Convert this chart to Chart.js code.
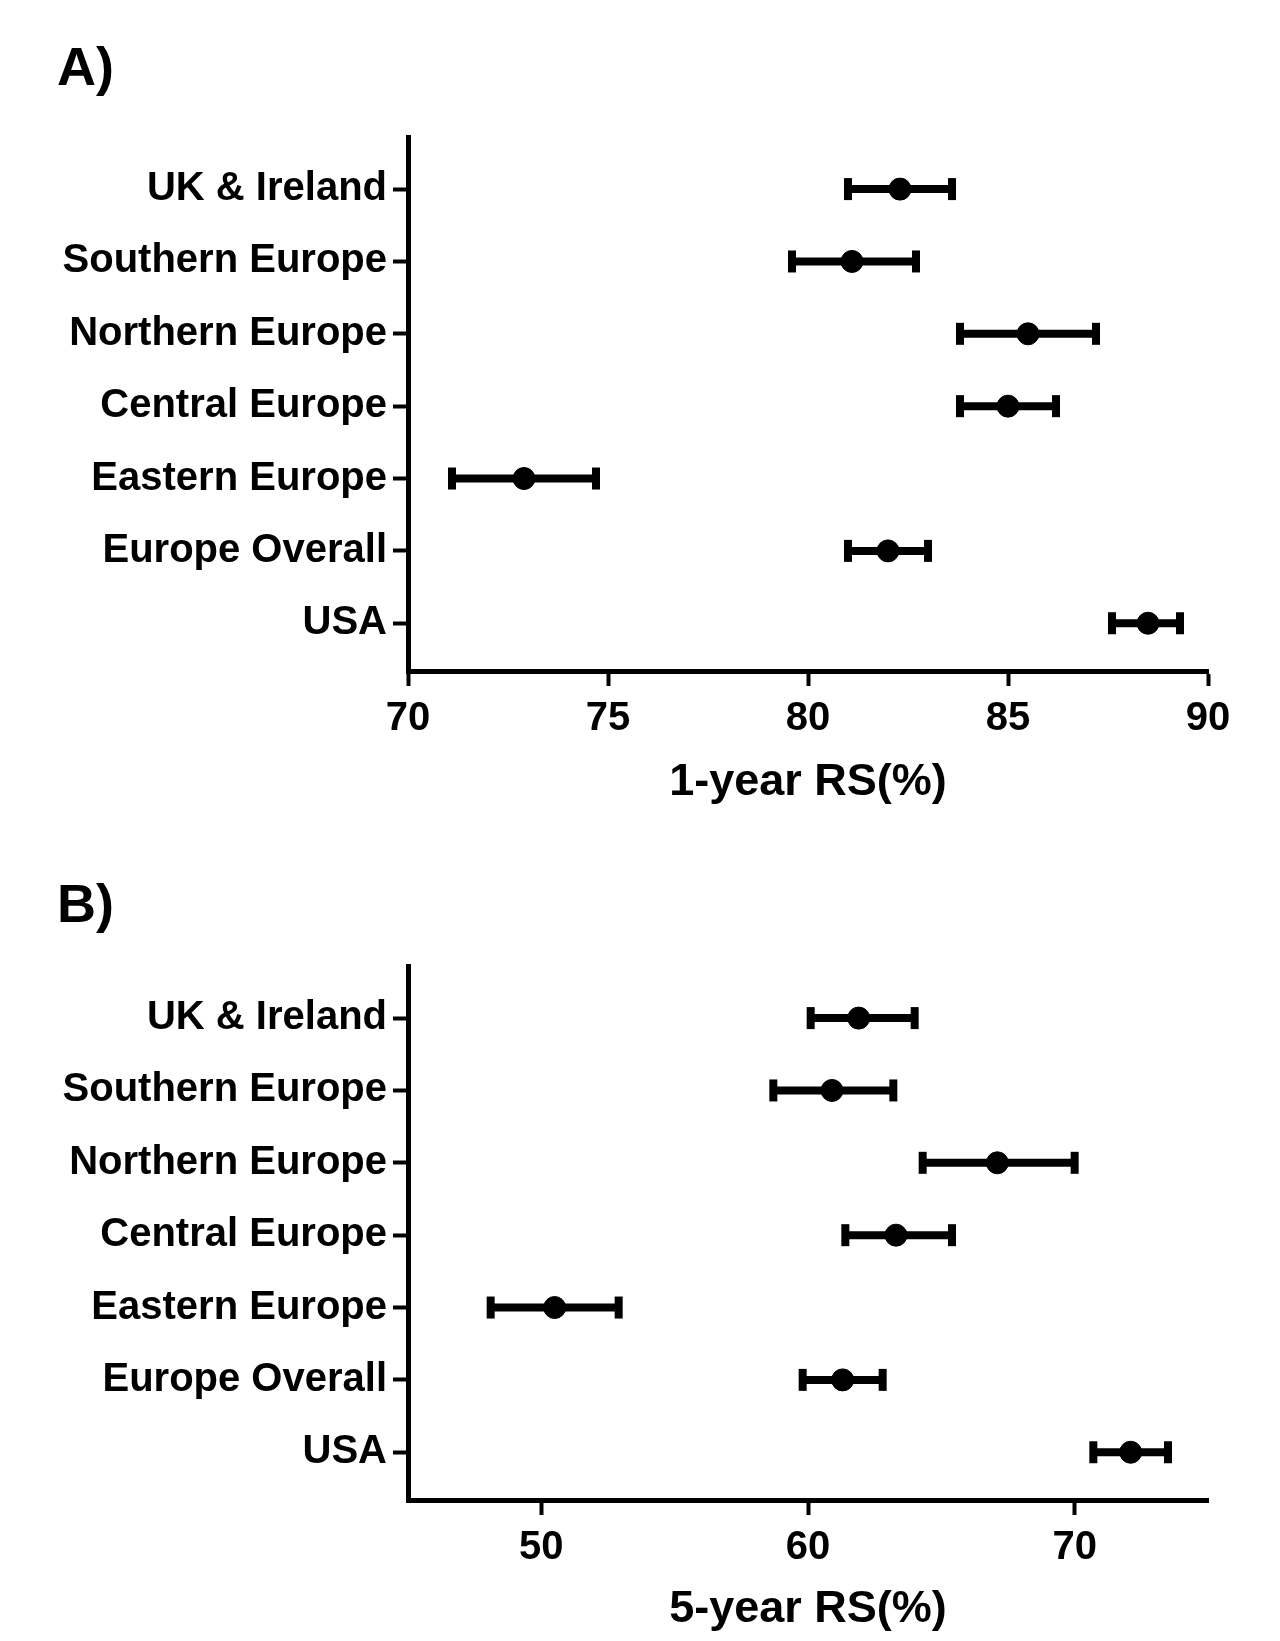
<!DOCTYPE html>
<html>
<head>
<meta charset="utf-8">
<script src="https://cdn.jsdelivr.net/npm/chart.js@4.4.1/dist/chart.umd.min.js"></script>
<style>
    body { margin: 0; background: #fff; }
    #wrap { position: relative; width: 1280px; height: 1641px; }
    canvas { position: absolute; left: 0; }
</style>
</head>
<body>
<div id="wrap">
    <canvas id="chart-a" width="1280" height="820" style="top:0"></canvas>
    <canvas id="chart-b" width="1280" height="821" style="top:820px"></canvas>
</div>
<script>
// --- DATA ---

const regions = ['UK & Ireland', 'Southern Europe', 'Northern Europe', 'Central Europe', 'Eastern Europe', 'Europe Overall', 'USA'];

// A) 1-year relative survival
const rs1Mean = [82.3, 81.1, 85.5, 85.0, 72.9, 82.0, 88.5];
const rs1Low  = [81.0, 79.6, 83.8, 83.8, 71.1, 81.0, 87.6];
const rs1High = [83.6, 82.7, 87.2, 86.2, 74.7, 83.0, 89.3];
const rs1Ticks = [70, 75, 80, 85, 90];

// B) 5-year relative survival
const rs5Mean = [61.9, 60.9, 67.1, 63.3, 50.5, 61.3, 72.1];
const rs5Low  = [60.1, 58.7, 64.3, 61.4, 48.1, 59.8, 70.7];
const rs5High = [64.0, 63.2, 70.0, 65.4, 52.9, 62.8, 73.5];
const rs5Ticks = [50, 60, 70];

const FONT = '"Liberation Sans", Arial, sans-serif';

// --- CHART BUILDER ---

function forestPlot(canvasId, cfg) {
    // dataset 0 is drawn last, so the dots sit on top of the whiskers
    const datasets = [{
        type: 'scatter',
        data: cfg.mean.map((v, i) => ({ x: v, y: i })),
        pointRadius: 11,
        pointHoverRadius: 11,
        backgroundColor: '#000',
        borderColor: '#000'
    }];

    cfg.low.forEach((lo, i) => {
        datasets.push({
            type: 'line',
            data: [{ x: lo, y: i }, { x: cfg.high[i], y: i }],
            borderColor: '#000',
            borderWidth: 8,
            fill: false,
            pointStyle: 'line',
            pointRotation: 90,
            pointRadius: 11,
            pointHoverRadius: 11,
            pointBorderWidth: 8,
            pointBorderColor: '#000'
        });
    });

    const axisLine = { display: true, width: 5, color: '#000' };
    const tickMarks = { drawOnChartArea: false, drawTicks: true, tickLength: 15, tickWidth: 4, color: '#000' };

    return new Chart(document.getElementById(canvasId), {
        type: 'scatter',
        data: { datasets },
        options: {
            responsive: false,
            animation: false,
            events: [],
            layout: { padding: { top: 0, left: 57, right: 72, bottom: 0 } },
            plugins: {
                legend: { display: false },
                tooltip: { enabled: false },
                title: {
                    display: true,
                    text: cfg.panel,
                    align: 'start',
                    color: '#000',
                    font: { family: FONT, weight: 'bold', size: 54, lineHeight: 1 },
                    padding: cfg.panelPad
                }
            },
            scales: {
                x: {
                    type: 'linear',
                    min: cfg.min,
                    max: cfg.max,
                    afterBuildTicks: s => { s.ticks = cfg.ticks.map(v => ({ value: v })); },
                    afterFit: s => { s.height = cfg.xHeight; },
                    grid: tickMarks,
                    border: axisLine,
                    ticks: { color: '#000', padding: 9, maxRotation: 0, autoSkip: false,
                             font: { family: FONT, weight: 'bold', size: 40, lineHeight: 1.2 } },
                    title: {
                        display: true,
                        text: cfg.xTitle,
                        color: '#000',
                        font: { family: FONT, weight: 'bold', size: 45, lineHeight: 1 },
                        padding: { top: 0, bottom: cfg.titleBottom }
                    }
                },
                y: {
                    type: 'linear',
                    reverse: true,
                    min: -0.72,
                    max: 6.66,
                    afterBuildTicks: s => { s.ticks = regions.map((_, i) => ({ value: i })); },
                    afterFit: s => { s.width = 351; },
                    grid: tickMarks,
                    border: axisLine,
                    ticks: {
                        color: '#000',
                        padding: 6,
                        autoSkip: false,
                        font: { family: FONT, weight: 'bold', size: 40 },
                        callback: v => regions[v]
                    }
                }
            }
        }
    });
}

forestPlot('chart-a', {
    panel: 'A)', panelPad: { top: 43, bottom: 40 },
    mean: rs1Mean, low: rs1Low, high: rs1High,
    min: 70, max: 90, ticks: rs1Ticks,
    xTitle: '1-year RS(%)', xHeight: 149, titleBottom: 15
});

forestPlot('chart-b', {
    panel: 'B)', panelPad: { top: 60, bottom: 32 },
    mean: rs5Mean, low: rs5Low, high: rs5High,
    min: 45, max: 75, ticks: rs5Ticks,
    xTitle: '5-year RS(%)', xHeight: 141, titleBottom: 9
});
</script>
</body>
</html>
